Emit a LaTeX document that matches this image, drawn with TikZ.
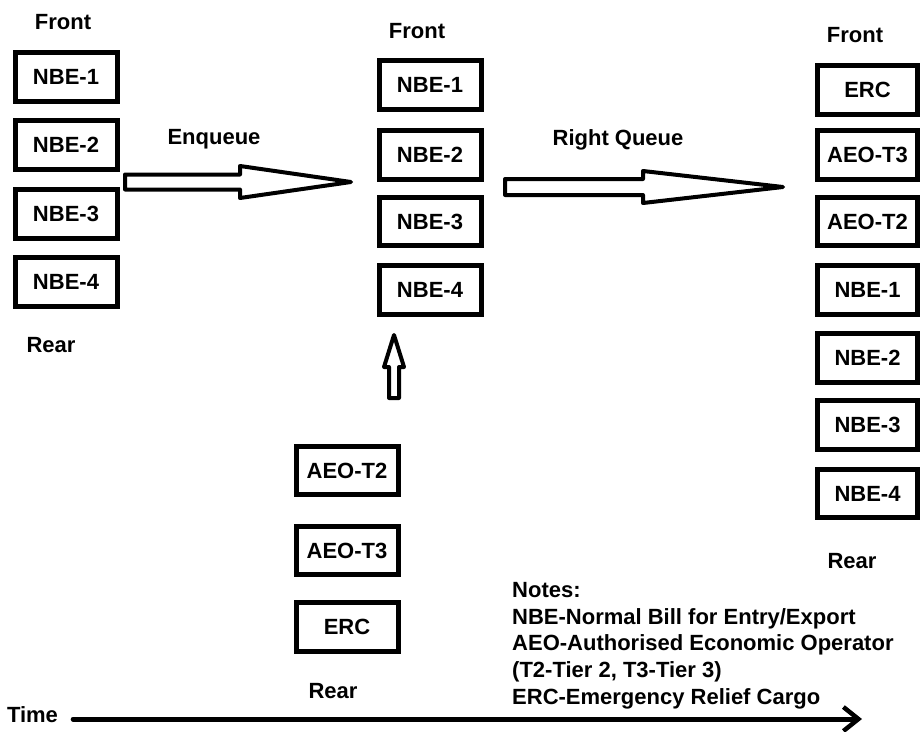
\documentclass[tikz,border=0pt]{standalone}
\usepackage{fontspec}
\setmainfont{Liberation Sans}
\usetikzlibrary{arrows.meta}
\begin{document}
\begin{tikzpicture}[x=1pt,y=-1pt,
  txt/.style={font=\fontsize{22pt}{26.7pt}\selectfont\bfseries, inner sep=0pt},
  qbox/.style={draw, line width=5pt, minimum width=102pt, minimum height=48.5pt, inner sep=0pt,
    font=\fontsize{22pt}{26.7pt}\selectfont\bfseries},
  rbox/.style={qbox, minimum width=100pt},
  barrow/.style={draw, line width=4pt, line join=round, fill=white},
  tline/.style={line width=5pt, line cap=round, -{Straight Barb[length=15pt,width=24pt,line width=4.5pt]}}]
\useasboundingbox (0,0) rectangle (921,731);

% left queue
\node[txt, anchor=base] (lfront) at (63,29) {Front};
\node[qbox] (l1) at (66,77) {NBE-1};
\node[qbox] (l2) at (66,145) {NBE-2};
\node[qbox] (l3) at (66,214) {NBE-3};
\node[qbox] (l4) at (66,282) {NBE-4};
\node[txt, anchor=base] (lrear) at (51,352) {Rear};

% middle queue
\node[txt, anchor=base] (mfront) at (417,38) {Front};
\node[qbox] (m1) at (430,85) {NBE-1};
\node[qbox] (m2) at (430,155) {NBE-2};
\node[qbox] (m3) at (430,221.5) {NBE-3};
\node[qbox] (m4) at (430,290) {NBE-4};

% bottom (priority) queue
\node[qbox] (b1) at (347,470.5) {AEO-T2};
\node[qbox] (b2) at (347,550.5) {AEO-T3};
\node[qbox] (b3) at (347,627) {ERC};
\node[txt, anchor=base] (brear) at (333,698) {Rear};

% right queue
\node[txt, anchor=base] (rfront) at (855,42) {Front};
\node[rbox] (r1) at (867.5,90) {ERC};
\node[rbox] (r2) at (867.5,155) {AEO-T3};
\node[rbox] (r3) at (867.5,221.5) {AEO-T2};
\node[rbox] (r4) at (867.5,290) {NBE-1};
\node[rbox] (r5) at (867.5,358) {NBE-2};
\node[rbox] (r6) at (867.5,425) {NBE-3};
\node[rbox] (r7) at (867.5,493.5) {NBE-4};
\node[txt, anchor=base] (rrear) at (852,568) {Rear};

% labels
\node[txt, anchor=base] (enq) at (214,144) {Enqueue};
\node[txt, anchor=base] (rq) at (618,145) {Right Queue};

% block arrows
\coordinate (eqs) at (125,182);
\coordinate (eqt) at (351,182);
\draw[barrow] (eqs) ++(0,-7.5) -- ++(115,0) -- ++(0,-8.5) -- (eqt) -- ++(-111,16) -- ++(0,-8.5) -- ++(-115,0) -- cycle;

\coordinate (rqs) at (505,187);
\coordinate (rqt) at (783,187);
\draw[barrow] (rqs) ++(0,-8) -- ++(138,0) -- ++(0,-8) -- (rqt) -- ++(-140,16) -- ++(0,-8) -- ++(-138,0) -- cycle;

\coordinate (ups) at (394,398);
\coordinate (upt) at (394,335);
\draw[barrow] (ups) ++(-5,0) -- ++(0,-31) -- ++(-5,0) -- (upt) -- ++(10,32) -- ++(-5,0) -- ++(0,31) -- cycle;

% time axis
\node[txt, anchor=base] (time) at (32.5,722) {Time};
\coordinate (tend) at (862,719);
\draw[tline, shorten <=15pt] (time.east |- tend) -- (tend);

% notes
\node[txt, anchor=north west, align=left] (notes) at (512,582)
  {Notes:\\NBE-Normal Bill for Entry/Export\\AEO-Authorised Economic Operator\\(T2-Tier 2, T3-Tier 3)\\ERC-Emergency Relief Cargo};
\end{tikzpicture}
\end{document}
